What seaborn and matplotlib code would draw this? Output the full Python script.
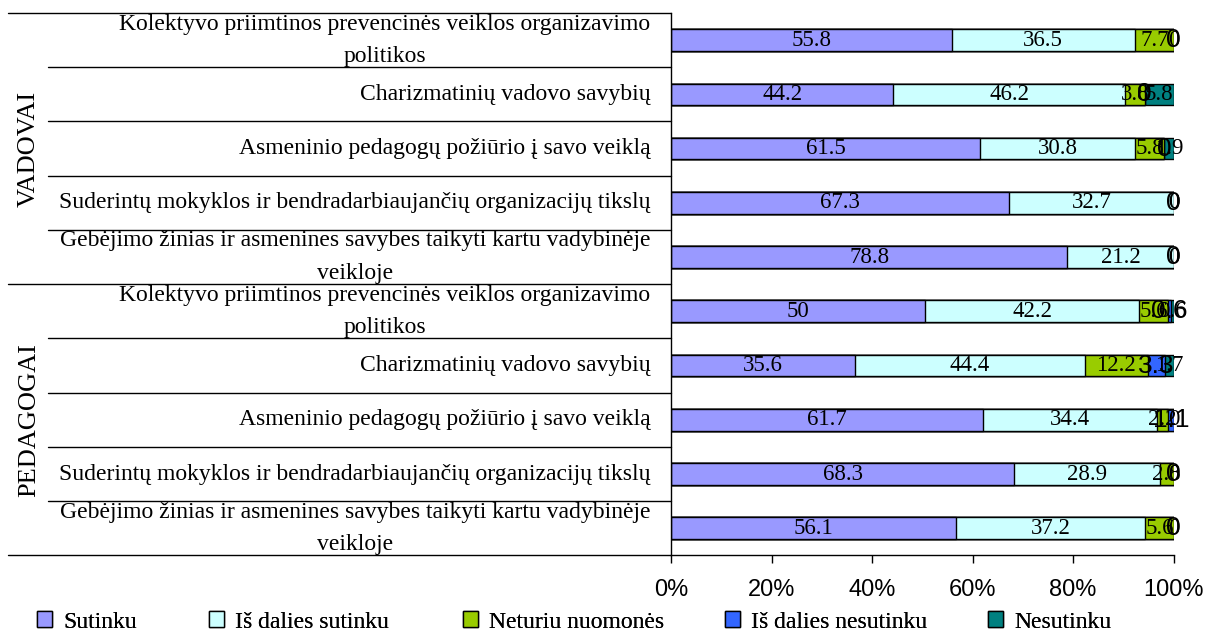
import pandas as pd
import matplotlib.pyplot as plt
import matplotlib.transforms as mtransforms
import seaborn as sns

sns.set_theme(style="white")
plt.rcParams['font.family'] = ['Liberation Serif', 'DejaVu Serif']
plt.rcParams['text.color'] = 'black'
plt.rcParams['xtick.color'] = 'black'
plt.rcParams['ytick.color'] = 'black'
plt.rcParams['axes.labelcolor'] = 'black'

# kategorijos
teiginiai = ["Kolektyvo priimtinos prevencinės veiklos organizavimo\npolitikos",
             "Charizmatinių vadovo savybių",
             "Asmeninio pedagogų požiūrio į savo veiklą",
             "Suderintų mokyklos ir bendradarbiaujančių organizacijų tikslų",
             "Gebėjimo žinias ir asmenines savybes taikyti kartu vadybinėje\nveikloje"]
grupes = ["VADOVAI", "PEDAGOGAI"]
eilutes = ["V1", "V2", "V3", "V4", "V5", "P1", "P2", "P3", "P4", "P5"]

atsakymai = ["Sutinku", "Iš dalies sutinku", "Neturiu nuomonės", "Iš dalies nesutinku", "Nesutinku"]
spalvos = ["#9999FF", "#CCFFFF", "#99CC00", "#3366FF", "#008080"]

# reiksmes (pirmi 5 - vadovai, kiti 5 - pedagogai)
sutinku = [55.8, 44.2, 61.5, 67.3, 78.8, 50, 35.6, 61.7, 68.3, 56.1]
is_dalies_sutinku = [36.5, 46.2, 30.8, 32.7, 21.2, 42.2, 44.4, 34.4, 28.9, 37.2]
neturiu_nuomones = [7.7, 3.8, 5.8, 0, 0, 5.6, 12.2, 2.2, 2.8, 5.6]
is_dalies_nesutinku = [0, 0, 0, 0, 0, 0.6, 3.3, 1.1, 0, 0]
nesutinku = [0, 5.8, 1.9, 0, 0, 0.6, 1.7, 0, 0, 0]

df = pd.DataFrame({"eil": eilutes,
                   atsakymai[0]: sutinku,
                   atsakymai[1]: is_dalies_sutinku,
                   atsakymai[2]: neturiu_nuomones,
                   atsakymai[3]: is_dalies_nesutinku,
                   atsakymai[4]: nesutinku})

# 100% stacked
suma = df[atsakymai].sum(axis=1)
proc = df[atsakymai].div(suma, axis=0) * 100
kum = proc.cumsum(axis=1)
for a in atsakymai:
    df["kum_" + a] = kum[a]

fig, ax = plt.subplots(figsize=(12.05, 6.34), dpi=100)
fig.subplots_adjust(left=0.557, right=0.974, top=0.9795, bottom=0.124)

# nuo galo, kad uzdengtu
for a, c in reversed(list(zip(atsakymai, spalvos))):
    sns.barplot(data=df, y="eil", x="kum_" + a, order=eilutes, orient="h",
                color=c, saturation=1, edgecolor="black", linewidth=1,
                width=0.4, label=a, ax=ax)

# skaiciai ant stulpeliu
for i in range(len(eilutes)):
    pradzia = 0
    for k, a in enumerate(atsakymai):
        v = df.loc[i, a]
        p = proc.loc[i, a]
        xc = pradzia + p / 2
        pradzia += p
        tekstas = f"{v:g}"
        if k == 3:
            ax.text(xc, i, tekstas, ha="center", va="center", fontsize=19,
                    family="Liberation Sans", color="black")
        else:
            ax.text(xc, i, tekstas, ha="center", va="center", fontsize=16.5,
                    color="black")

ax.set_xlim(0, 100)
ax.set_ylim(9.5, -0.5)
ax.set_xlabel("")
ax.set_ylabel("")
ax.set_xticks([0, 20, 40, 60, 80, 100])
ax.set_xticklabels([f"{t}%" for t in [0, 20, 40, 60, 80, 100]],
                   family="Liberation Sans", fontsize=17, color="black")
ax.set_yticks(range(10))
ax.set_yticklabels(teiginiai * 2, fontsize=17, linespacing=1.7,
                   multialignment="center", va="center", color="black")
ax.tick_params(axis="y", length=0, pad=15)
ax.tick_params(axis="x", length=6, width=1, color="black", direction="out",
               pad=11, bottom=True)
sns.despine(ax=ax, top=True, right=True)
for s in ["left", "bottom"]:
    ax.spines[s].set_color("black")
    ax.spines[s].set_linewidth(1)

# skirtukai kaireje
tr = mtransforms.blended_transform_factory(ax.transAxes, ax.transData)
for b in [x - 0.5 for x in range(11)]:
    x0 = -1.3201 if b in (-0.5, 4.5, 9.5) else -1.2406
    ax.plot([x0, 0], [b, b], transform=tr, color="black", lw=1, clip_on=False)

ax.text(-1.278, 2, grupes[0], rotation=90, transform=tr, ha="center",
        va="center", fontsize=19)
ax.text(-1.278, 7, grupes[1], rotation=90, transform=tr, ha="center",
        va="center", fontsize=19)

h, l = ax.get_legend_handles_labels()
if ax.get_legend() is not None:
    ax.get_legend().remove()
h = h[::-1]
l = l[::-1]
# legendos irasai atskirai, kaip excelyje
leg_x = [37, 209, 463, 725, 988]
for hh, ll, xx in zip(h, l, leg_x):
    lg = fig.legend([hh], [ll], loc="center left", bbox_to_anchor=(xx / 1205, 0.019),
                    frameon=False, fontsize=17, handlelength=0.65, handleheight=0.65,
                    handletextpad=0.45, borderpad=0, borderaxespad=0,
                    labelcolor="black")
    fig.add_artist(lg)

plt.savefig("out.png", dpi=100)
